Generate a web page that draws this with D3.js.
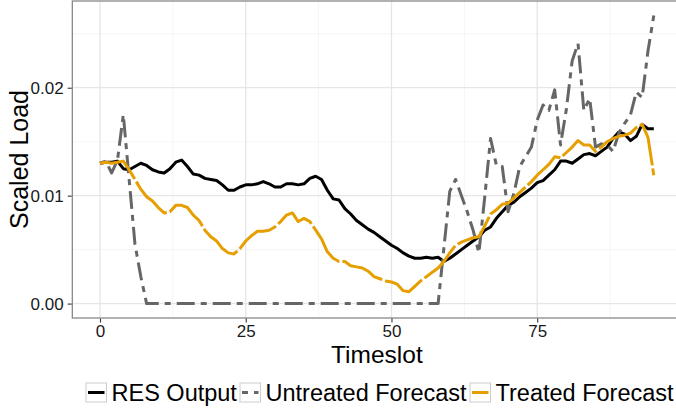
<!DOCTYPE html>
<html>
<head>
<meta charset="utf-8">
<script src="https://d3js.org/d3.v7.min.js"></script>
<style>
  body { margin: 0; background: #fff; }
  svg { display: block; font-family: "Liberation Sans", Arial, sans-serif; }
</style>
</head>
<body>
<svg id="chart"></svg>
<script>
// data, one value per timeslot 0..95
var timeslots = d3.range(0, 96);

var resOutput = [
  0.0130, 0.0131, 0.0131, 0.0132, 0.0125, 0.0124, 0.0127, 0.0130, 0.0128, 0.0124,
  0.0122, 0.0121, 0.0125, 0.0131, 0.0133, 0.0127, 0.0120, 0.0119, 0.0116, 0.0115,
  0.0114, 0.0110, 0.0105, 0.0105, 0.0108, 0.0110, 0.0110, 0.0111, 0.0113, 0.0111,
  0.0108, 0.0108, 0.0111, 0.0111, 0.0110, 0.0111, 0.0116, 0.0118, 0.0115, 0.0105,
  0.0097, 0.0096, 0.0088, 0.0083, 0.0077, 0.0073, 0.0069, 0.0066, 0.0062, 0.0058,
  0.0054, 0.0051, 0.0047, 0.0044, 0.0042, 0.0042, 0.0043, 0.0042, 0.0043, 0.0039,
  0.0042, 0.0046, 0.0050, 0.0054, 0.0058, 0.0062, 0.0068, 0.0071, 0.0079, 0.0085,
  0.0091, 0.0094, 0.0099, 0.0103, 0.0107, 0.0112, 0.0114, 0.0119, 0.0124, 0.0132,
  0.0132, 0.0130, 0.0134, 0.0138, 0.0139, 0.0137, 0.0141, 0.0145, 0.0153, 0.0159,
  0.0157, 0.0151, 0.0155, 0.0166, 0.0162, 0.0162
];

var untreatedForecast = [
  0.0130, 0.0132, 0.0121, 0.0133, 0.0175, 0.0115, 0.0055, 0.0025, 0, 0,
  0, 0, 0, 0, 0, 0, 0, 0, 0, 0,
  0, 0, 0, 0, 0, 0, 0, 0, 0, 0,
  0, 0, 0, 0, 0, 0, 0, 0, 0, 0,
  0, 0, 0, 0, 0, 0, 0, 0, 0, 0,
  0, 0, 0, 0, 0, 0, 0, 0, 0, 0.0052,
  0.0104, 0.0115, 0.0100, 0.0085, 0.0068, 0.0047, 0.0099, 0.0153, 0.0128, 0.0127,
  0.0085, 0.0102, 0.0127, 0.0136, 0.0145, 0.0170, 0.0184, 0.0179, 0.0198, 0.0147,
  0.0180, 0.0225, 0.0241, 0.0179, 0.0190, 0.0145, 0.0148, 0.0147, 0.0141, 0.0158,
  0.0167, 0.0175, 0.0196, 0.0191, 0.0234, 0.0267
];

var treatedForecast = [
  0.0130, 0.0131, 0.0130, 0.0131, 0.0132, 0.0124, 0.0115, 0.0106, 0.0099, 0.0095,
  0.0089, 0.0084, 0.0085, 0.0091, 0.0091, 0.0089, 0.0082, 0.0077, 0.0068, 0.0062,
  0.0058, 0.0051, 0.0047, 0.0046, 0.0051, 0.0058, 0.0063, 0.0067, 0.0067, 0.0068,
  0.0071, 0.0076, 0.0082, 0.0084, 0.0076, 0.0079, 0.0076, 0.0068, 0.0060, 0.0048,
  0.0042, 0.0039, 0.0039, 0.0035, 0.0034, 0.0033, 0.0030, 0.0025, 0.0023, 0.0021,
  0.0020, 0.0018, 0.0012, 0.0011, 0.0016, 0.0021, 0.0025, 0.0029, 0.0033, 0.0039,
  0.0047, 0.0054, 0.0057, 0.0059, 0.0061, 0.0062, 0.0072, 0.0083, 0.0087, 0.0092,
  0.0093, 0.0098, 0.0103, 0.0108, 0.0113, 0.0119, 0.0124, 0.0129, 0.0136, 0.0135,
  0.0140, 0.0145, 0.0151, 0.0147, 0.0147, 0.0141, 0.0145, 0.0150, 0.0153, 0.0155,
  0.0156, 0.0158, 0.0163, 0.0166, 0.0154, 0.0119
];

var seriesNames = ["RES Output", "Untreated Forecast", "Treated Forecast"];
var seriesColors = ["#000000", "#666666", "#E69F00"];
var seriesDash = ["none", "6,6,18,6", "45,3"];

var xTicks = [0, 25, 50, 75];
var xMinor = [12.5, 37.5, 62.5, 87.5];
var yTicks = [0, 0.01, 0.02];
var yMinor = [0.005, 0.015, 0.025];

// set the dimensions of the graph
var width = 676,
    height = 412,
    panel = {left: 72.3, right: 681.5, top: 1, bottom: 318};

var svg = d3.select("#chart")
  .attr("width", width)
  .attr("height", height)
  .style("overflow", "hidden");

svg.append("rect")
  .attr("width", width)
  .attr("height", height)
  .attr("fill", "#fff");

// scales, padded 5% like ggplot
var xPad = 95 * 0.05;
var x = d3.scaleLinear()
  .domain([0 - xPad, 95 + xPad])
  .range([panel.left, panel.right]);

var allValues = resOutput.concat(untreatedForecast, treatedForecast);
var yMin = d3.min(allValues), yMax = d3.max(allValues);
var yPad = (yMax - yMin) * 0.05;
var y = d3.scaleLinear()
  .domain([yMin - yPad, yMax + yPad])
  .range([panel.bottom, panel.top]);

// grid lines
var grid = svg.append("g");
grid.selectAll(".xminor")
  .data(xMinor)
  .enter()
  .append("line")
  .attr("x1", function(d) { return x(d); })
  .attr("x2", function(d) { return x(d); })
  .attr("y1", panel.top)
  .attr("y2", panel.bottom)
  .attr("stroke", "#f2f2f2")
  .attr("stroke-width", 0.8);
grid.selectAll(".yminor")
  .data(yMinor)
  .enter()
  .append("line")
  .attr("x1", panel.left)
  .attr("x2", panel.right)
  .attr("y1", function(d) { return y(d); })
  .attr("y2", function(d) { return y(d); })
  .attr("stroke", "#f2f2f2")
  .attr("stroke-width", 0.8);
grid.selectAll(".xmajor")
  .data(xTicks)
  .enter()
  .append("line")
  .attr("x1", function(d) { return x(d); })
  .attr("x2", function(d) { return x(d); })
  .attr("y1", panel.top)
  .attr("y2", panel.bottom)
  .attr("stroke", "#e6e6e6")
  .attr("stroke-width", 1.3);
grid.selectAll(".ymajor")
  .data(yTicks)
  .enter()
  .append("line")
  .attr("x1", panel.left)
  .attr("x2", panel.right)
  .attr("y1", function(d) { return y(d); })
  .attr("y2", function(d) { return y(d); })
  .attr("stroke", "#e6e6e6")
  .attr("stroke-width", 1.3);

// lines
var allSeries = [resOutput, untreatedForecast, treatedForecast];
var line = d3.line()
  .x(function(d, i) { return x(timeslots[i]); })
  .y(function(d) { return y(d); });

svg.append("clipPath")
  .attr("id", "panelclip")
  .append("rect")
  .attr("x", panel.left)
  .attr("y", panel.top)
  .attr("width", panel.right - panel.left)
  .attr("height", panel.bottom - panel.top);

svg.append("g")
  .attr("clip-path", "url(#panelclip)")
  .selectAll("path")
  .data(allSeries)
  .enter()
  .append("path")
  .attr("d", function(d) { return line(d); })
  .attr("fill", "none")
  .attr("stroke", function(d, i) { return seriesColors[i]; })
  .attr("stroke-dasharray", function(d, i) { return seriesDash[i]; })
  .attr("stroke-width", 3)
  .attr("stroke-linejoin", "round");

// panel border
svg.append("rect")
  .attr("x", panel.left)
  .attr("y", panel.top)
  .attr("width", panel.right - panel.left)
  .attr("height", panel.bottom - panel.top)
  .attr("fill", "none")
  .attr("stroke", "#7f7f7f")
  .attr("stroke-width", 1.2);

// axes
var xAxis = svg.append("g")
  .attr("transform", "translate(0," + (panel.bottom + 0.6) + ")")
  .call(d3.axisBottom(x).tickValues(xTicks).tickSize(4).tickSizeOuter(0).tickPadding(2.5));
var yAxis = svg.append("g")
  .attr("transform", "translate(" + (panel.left - 0.6) + ",0)")
  .call(d3.axisLeft(y).tickValues(yTicks).tickFormat(d3.format(".2f")).tickSize(4).tickSizeOuter(0).tickPadding(4));

[xAxis, yAxis].forEach(function(a) {
  a.select(".domain").remove();
  a.selectAll("line").attr("stroke", "#333").attr("stroke-width", 1.1);
  a.selectAll("text")
    .style("font-family", "'Liberation Sans', Arial, sans-serif")
    .style("font-size", "17px")
    .attr("fill", "#1a1a1a");
});

// axis titles
svg.append("text")
  .attr("text-anchor", "middle")
  .attr("x", (panel.left + panel.right) / 2)
  .attr("y", 363)
  .text("Timeslot")
  .style("font-size", "24.5px")
  .style("fill", "black");

svg.append("text")
  .attr("text-anchor", "middle")
  .attr("transform", "translate(27.5," + ((panel.top + panel.bottom) / 2) + ")rotate(-90)")
  .text("Scaled Load")
  .style("font-size", "25px")
  .style("fill", "black");

// legend
var legendX = [86, 240, 470];
var legend = svg.append("g");
seriesNames.forEach(function(name, i) {
  var g = legend.append("g").attr("transform", "translate(" + legendX[i] + ",383)");
  g.append("rect")
    .attr("width", 20.5)
    .attr("height", 19)
    .attr("fill", "#fff")
    .attr("stroke", "#cccccc")
    .attr("stroke-width", 1);
  g.append("line")
    .attr("x1", 2)
    .attr("x2", 18.5)
    .attr("y1", 9.5)
    .attr("y2", 9.5)
    .attr("stroke", seriesColors[i])
    .attr("stroke-dasharray", seriesDash[i] === "45,3" ? "none" : seriesDash[i])
    .attr("stroke-width", 3);
  g.append("text")
    .attr("x", 25.5)
    .attr("y", 17.7)
    .text(name)
    .style("font-size", "23.5px")
    .style("fill", "black");
});
</script>
</body>
</html>
